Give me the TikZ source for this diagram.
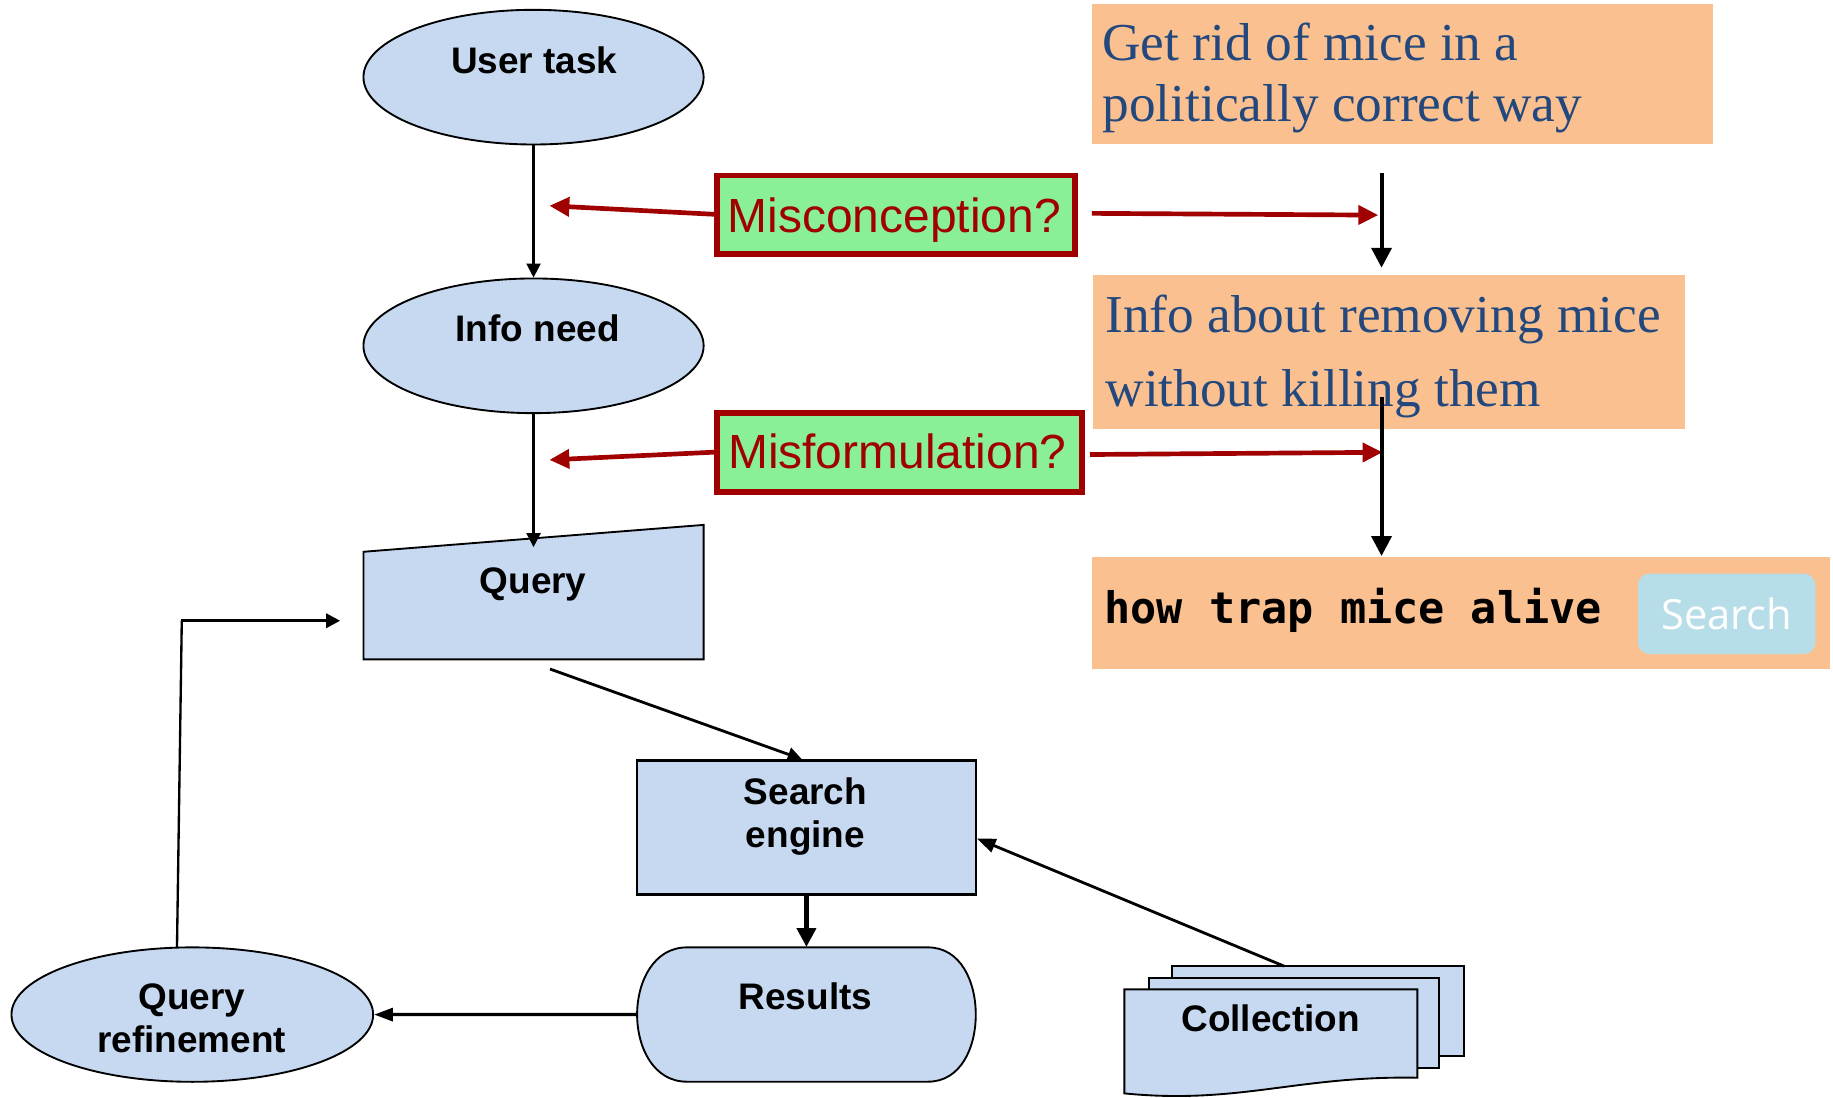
\documentclass[tikz,border=0pt]{standalone}
\usepackage{fontspec}
\setmainfont{Liberation Serif}
\setsansfont{Liberation Sans}
\setmonofont{DejaVu Sans Mono}
\newfontfamily\btnfont{Open Sans}
\usetikzlibrary{shapes.geometric,arrows.meta,calc}
\definecolor{nodeblue}{RGB}{198,217,241}
\definecolor{boxorange}{RGB}{250,192,144}
\definecolor{boxgreen}{RGB}{137,240,150}
\definecolor{darkred}{RGB}{160,0,0}
\definecolor{textblue}{RGB}{35,72,125}
\definecolor{btnblue}{RGB}{183,222,232}
\begin{document}
\begin{tikzpicture}[x=0.5pt,y=-0.5pt,
  shapestyle/.style={fill=nodeblue,draw=black,line width=0.8pt},
  lab/.style={font=\sffamily\bfseries\fontsize{15.8}{18.4}\selectfont,inner sep=0pt,anchor=base,align=center},
  redbox/.style={fill=boxgreen,draw=darkred,line width=2.4pt,inner sep=0pt},
  redlab/.style={font=\sffamily\fontsize{20.5}{24}\selectfont,text=darkred,inner sep=0pt,anchor=base},
  redarr/.style={draw=darkred,line width=2pt,-{Triangle[length=8.5pt,width=8pt]}},
  orangebox/.style={fill=boxorange,inner sep=0pt},
  serif/.style={font=\rmfamily\fontsize{22.8}{26}\selectfont,text=textblue,inner sep=0pt,anchor=base west},
  bigarr/.style={draw=black,line width=1.7pt,-{Triangle[length=8.5pt,width=8.5pt]}},
  smallarr/.style={draw=black,line width=1pt,-{Triangle[length=6pt,width=6pt]}},
]
\useasboundingbox (0,0) rectangle (1568,938.4);

% ---------- left flow ----------
\node[ellipse,shapestyle,minimum width=145.5pt,minimum height=57.6pt,inner sep=0pt] (ut) at (456.4,66) {};
\node[lab] (utl) at (457,63) {User task};
\node[ellipse,shapestyle,minimum width=145.5pt,minimum height=57.6pt,inner sep=0pt] (in) at (456.4,295.8) {};
\node[lab] (inl) at (460,292) {Info need};

\coordinate (qtl) at (310.9,472);
\coordinate (qtr) at (601.9,449);
\coordinate (qbr) at (601.9,564);
\coordinate (qbl) at (310.9,564);
\draw[shapestyle] (qtl) -- (qtr) -- (qbr) -- (qbl) -- cycle;
\node[lab] (ql) at (456,508) {Query};
\coordinate (qtop) at (456.4,468);
\coordinate (qout) at (470.5,572.3);

\draw[smallarr] (ut.south) -- (in.north);
\draw[smallarr] (in.south) -- (qtop);

\node[rectangle,shapestyle,line width=1pt,minimum width=144.85pt,minimum height=57.45pt,inner sep=0pt] (se) at (689.85,707.85) {};
\node[lab] (sel) at (689,724.8) {Search\\engine};

% results
\node[inner sep=0pt,minimum width=144.85pt,minimum height=57.45pt] (res) at (689.85,867.85) {};
\draw[shapestyle] (587.6,810.4) -- (793.8,810.4)
  .. controls (822,810.4) and (834.7,840) .. (834.7,867.85)
  .. controls (834.7,896) and (822,925.3) .. (793.8,925.3)
  -- (587.6,925.3)
  .. controls (559,925.3) and (545,896) .. (545,867.85)
  .. controls (545,840) and (559,810.4) .. (587.6,810.4) -- cycle;
\node[lab] (resl) at (689,863.2) {Results};

% query refinement
\node[ellipse,shapestyle,minimum width=154.7pt,minimum height=57.5pt,inner sep=0pt] (qr) at (164.5,867.9) {};
\node[lab] (qrl) at (164,900.2) {Query\\refinement};

% collection
\draw[shapestyle] (1002.3,826.4) rectangle (1252.6,903.3);
\draw[shapestyle] (982.9,836.3) rectangle (1231.3,913.3);
\draw[shapestyle] (961.8,846.3) -- (1212.4,846.3) -- (1212.4,921.9)
  .. controls (1110,920) and (1060,945) .. (961.8,935.3) -- cycle;
\node[lab] (coll) at (1087,882.5) {Collection};
\coordinate (coltop) at (1098.3,826.4);

% connectors
\draw[draw=black,line width=1.2pt,-{Triangle[length=6pt,width=6pt]}] (qout) -- ($(se.north)+(-4,0)$);
\draw[draw=black,line width=1.9pt,-{Triangle[length=8pt,width=8pt]}] (se.south) -- (res.north);
\draw[draw=black,line width=1.4pt,-{Triangle[length=8pt,width=5.5pt]}] (res.west) -- (qr.east);
\draw[draw=black,line width=1.2pt,-{Triangle[length=8pt,width=6pt]}] (coltop) -- ($(se.east)+(0,9.4)$);
\coordinate (fb0) at (151.4,810.4);
\coordinate (fb1) at (155.5,531);
\coordinate (fb2) at (291,531);
\draw[line width=1pt] (fb0) -- (fb1);
\draw[draw=black,line width=1.4pt,-{Triangle[length=6pt,width=6pt]}] ([xshift=-0.5pt]fb1) -- (fb2);

% ---------- red question boxes ----------
\node[redbox,minimum width=153.3pt,minimum height=33.6pt] (mc) at (766.5,183.8) {};
\node[redlab] (mcl) at (765,198.6) {Misconception?};
\node[redbox,minimum width=156.3pt,minimum height=33.8pt] (mf) at (769.5,387) {};
\node[redlab] (mfl) at (767.5,401) {Misformulation?};

\coordinate (mcL) at (470,176);
\coordinate (mfL) at (470,393.4);
\coordinate (mcR0) at (934,182.5);
\coordinate (mcR1) at (1179,184);
\coordinate (mfR0) at (932.4,388.8);
\coordinate (mfR1) at (1182.6,386.9);
\draw[redarr] (mc.west |- 0,183.3) -- (mcL);
\draw[redarr] (mf.west |- 0,386.8) -- (mfL);

% ---------- right column ----------
\node[orangebox,minimum width=265.5pt,minimum height=59.6pt] (g1) at (1199.5,63.4) {};
\node[serif] (g1a) at (942.7,51.5) {Get rid of mice in a};
\node[serif] (g1b) at (942.7,104) {politically correct way};

\node[orangebox,minimum width=253pt,minimum height=65.5pt] (g2) at (1188,301.1) {};
\node[serif] (g2a) at (945.3,284.5) {Info about removing mice};
\node[serif] (g2b) at (945.3,348) {without killing them};

\node[orangebox,minimum width=315.5pt,minimum height=47.75pt] (g3) at (1250,524.25) {};
\node[font=\ttfamily\bfseries\fontsize{18.6}{22}\selectfont,inner sep=0pt,anchor=base west] (g3t) at (944.4,533) {how trap mice alive};
\node[fill=btnblue,rounded corners=5pt,minimum width=76pt,minimum height=34.4pt,inner sep=0pt] (btn) at (1477,525.1) {};
\node[font=\btnfont\fontsize{17.8}{21}\selectfont,text=white,inner sep=0pt,anchor=base] (btnl) at (1477,538.5) {Search};

\coordinate (a1top) at (1181.8,148);
\coordinate (a1tip) at (1181.8,229);
\coordinate (a2top) at (1181.8,340);
\coordinate (a2tip) at (1181.8,475.6);
\draw[redarr] (mcR0) -- (mcR1);
\draw[redarr] (mfR0) -- (mfR1);
\draw[bigarr] (a1top) -- (a1tip);
\draw[bigarr] (a2top) -- (a2tip);
\end{tikzpicture}
\end{document}
